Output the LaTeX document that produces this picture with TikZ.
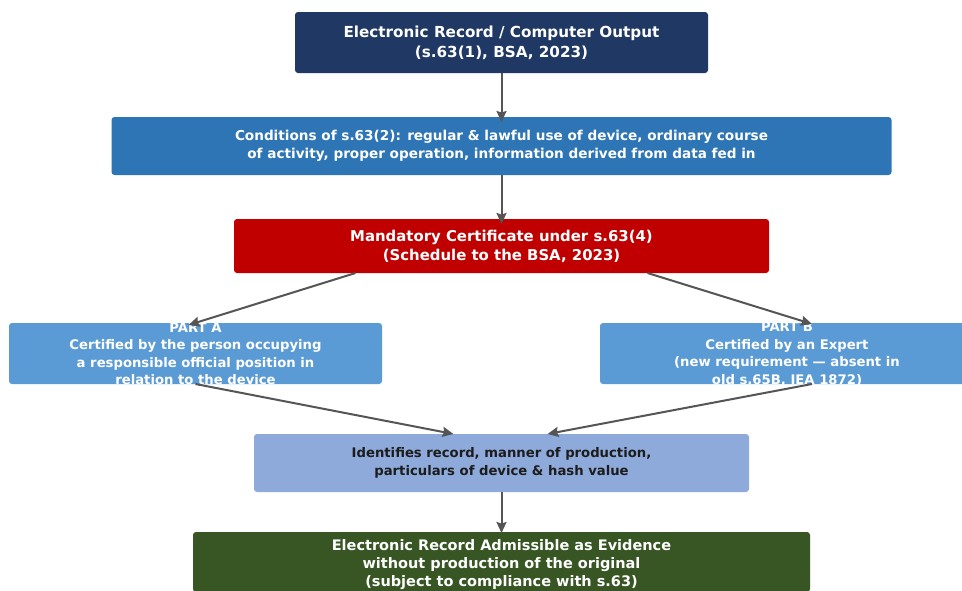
\documentclass[tikz,border=0pt]{standalone}
\usepackage{fontspec}
\setmainfont{DejaVu Sans}
\usetikzlibrary{arrows.meta}
\definecolor{navy}{HTML}{1F3864}
\definecolor{midblue}{HTML}{2E75B6}
\definecolor{certred}{HTML}{C00000}
\definecolor{partblue}{HTML}{5B9BD5}
\definecolor{lightblue}{HTML}{8EAADB}
\definecolor{darkgreen}{HTML}{375623}
\definecolor{arrowgray}{HTML}{555555}
\definecolor{darktext}{HTML}{1C1C1C}
\tikzset{
  box/.style={draw=none, rounded corners=3pt, inner sep=0pt, outer sep=0pt},
  txt/.style={text=white, align=center, inner sep=0pt},
  conn/.style={draw=arrowgray, line width=2pt, -{Stealth[length=11pt,width=10pt,inset=1.5pt]}},
}
\begin{document}
\begin{tikzpicture}[x=1pt,y=-1pt]
\useasboundingbox (0,0) rectangle (962,590);
\clip (0,0) rectangle (962,590);
\fill[white] (0,0) rectangle (962,590);
% boxes
\node[box, fill=navy, minimum width=413pt, minimum height=61pt] (top) at (501.5,42.5) {};
\node[txt, font=\fontsize{15.2}{20}\selectfont\bfseries] (toptxt) at (top.center) {Electronic Record / Computer Output\\(s.63(1), BSA, 2023)};

\node[box, fill=midblue, minimum width=780pt, minimum height=58pt] (cond) at (501.5,146) {};
\node[txt, font=\fontsize{13.6}{18}\selectfont\bfseries] (condtxt) at (cond.center) {Conditions of s.63(2): regular \& lawful use of device, ordinary course\\of activity, proper operation, information derived from data fed in};

\node[box, fill=certred, minimum width=535pt, minimum height=54pt] (cert) at (501.5,246) {};
\node[txt, font=\fontsize{14.9}{19}\selectfont\bfseries] (certtxt) at (cert.center) {Mandatory Certificate under s.63(4)\\(Schedule to the BSA, 2023)};

\node[box, fill=partblue, minimum width=373pt, minimum height=61pt] (partA) at (195.5,353.5) {};
\node[txt, font=\fontsize{13.2}{17.5}\selectfont\bfseries] (partAtxt) at (195.5,354) {PART A\\Certified by the person occupying\\a responsible official position in\\relation to the device};

\node[box, fill=partblue, minimum width=424pt, minimum height=61pt] (partB) at (812,353.5) {};
\node[txt, font=\fontsize{13.2}{17.5}\selectfont\bfseries] (partBtxt) at (787,354) {PART B\\Certified by an Expert\\(new requirement — absent in\\old s.65B, IEA 1872)};

\node[box, fill=lightblue, minimum width=495pt, minimum height=58pt] (ident) at (501.5,463) {};
\node[txt, text=darktext, font=\fontsize{13.2}{17.5}\selectfont\bfseries] (identtxt) at (ident.center) {Identifies record, manner of production,\\particulars of device \& hash value};

\node[box, fill=darkgreen, minimum width=617pt, minimum height=60pt] (final) at (501.5,562) {};
\node[txt, font=\fontsize{14.5}{18}\selectfont\bfseries] (finaltxt) at ([yshift=-2.5pt]final.center) {Electronic Record Admissible as Evidence\\without production of the original\\(subject to compliance with s.63)};

% connectors
\draw[conn] (top.south) -- ([yshift=-5pt]cond.north);
\draw[conn] (cond.south) -- ([yshift=-5pt]cert.north);
\draw[conn] ([xshift=-146pt]cert.south) -- ([xshift=-7pt,yshift=-2pt]partA.north);
\draw[conn] ([xshift=146pt]cert.south) -- ([yshift=-1pt]partB.north);
\draw[conn] (partA.south) -- ([xshift=-48pt]ident.north);
\draw[conn] (partB.south) -- ([xshift=46pt]ident.north);
\draw[conn] (ident.south) -- ([yshift=-1pt]final.north);
\end{tikzpicture}
\end{document}
